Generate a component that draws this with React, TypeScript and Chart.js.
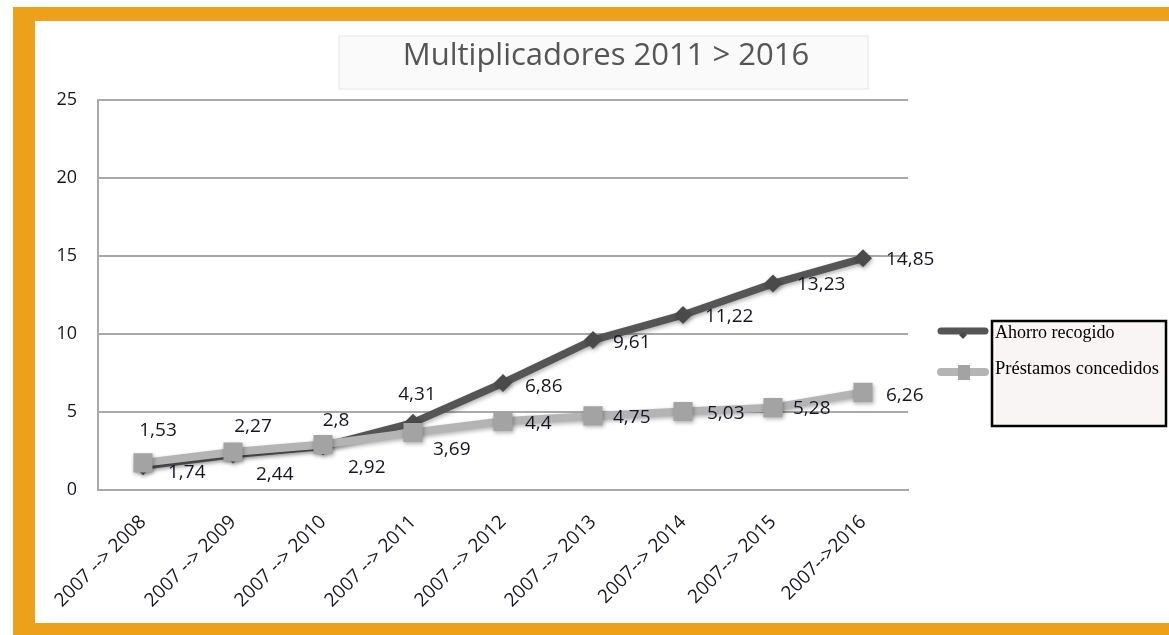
import { useEffect, useRef } from 'react';
import { Chart, registerables } from 'chart.js';

Chart.register(...registerables);

const TITLE = 'Multiplicadores 2011 > 2016';
const CATEGORIES = [
  '2007 --> 2008',
  '2007 --> 2009',
  '2007 --> 2010',
  '2007 --> 2011',
  '2007 --> 2012',
  '2007 --> 2013',
  '2007--> 2014',
  '2007--> 2015',
  '2007-->2016',
];
const SERIES_NAMES = ['Ahorro recogido', 'Préstamos concedidos'];
const AHORRO = [1.53, 2.27, 2.8, 4.31, 6.86, 9.61, 11.22, 13.23, 14.85];
const PRESTAMOS = [1.74, 2.44, 2.92, 3.69, 4.4, 4.75, 5.03, 5.28, 6.26];
const Y_MIN = 0;
const Y_MAX = 25;
const Y_STEP = 5;

// label placement (style only): [align, dx, dy] relative to the point
const AHORRO_LABEL_POS: [string, number, number][] = [
  ['center', 15, -36], ['center', 20, -28], ['center', 13, -26], ['center', 4, -28],
  ['left', 22, 4], ['left', 20, 3], ['left', 22, 2], ['left', 24, 1], ['left', 23, 1],
];
const PRESTAMOS_LABEL_POS: [string, number, number][] = [
  ['left', 25, 10], ['left', 23, 23], ['left', 25, 23], ['left', 20, 17],
  ['left', 22, 2], ['left', 20, 2], ['left', 24, 2], ['left', 20, 1], ['left', 23, 3],
];

const W = 1169;
const H = 635;
const ORANGE = '#EDA11A';
const DARK = '#555555';
const DARK_MARK = '#4a4a4a';
const LIGHT = '#b4b4b4';
const LIGHT_MARK = '#a3a3a3';
const GRID = '#a9a9a9';
const TEXT = '#16161f';
const SANS = '"Open Sans"';

const fmt = (v: number) => String(v).replace('.', ',');

const decorPlugin = {
  id: 'decor',
  beforeDraw(chart: any) {
    const ctx = chart.ctx;
    ctx.save();
    ctx.fillStyle = '#ffffff';
    ctx.fillRect(0, 0, W, H);
    ctx.fillStyle = ORANGE;
    ctx.fillRect(13, 7, W - 13, 14);
    ctx.fillRect(13, 7, 22, H - 7);
    ctx.fillRect(13, 623, W - 13, H - 623);
    // title box
    ctx.fillStyle = '#fbfafa';
    ctx.fillRect(339, 36, 529, 53);
    ctx.strokeStyle = '#f0ebeb';
    ctx.lineWidth = 1.5;
    ctx.strokeRect(339, 36, 529, 53);
    ctx.fillStyle = '#555555';
    ctx.font = `31px "Open Sans"`;
    ctx.textAlign = 'center';
    ctx.textBaseline = 'alphabetic';
    ctx.fillText(TITLE, 606, 65);
    ctx.restore();
  },
  beforeDatasetsDraw(chart: any) {
    const ctx = chart.ctx;
    ctx.save();
    ctx.shadowColor = 'rgba(0,0,0,0.3)';
    ctx.shadowBlur = 4;
    ctx.shadowOffsetX = 1;
    ctx.shadowOffsetY = 2;
  },
  afterDatasetsDraw(chart: any) {
    const ctx = chart.ctx;
    ctx.restore();
    ctx.save();
    ctx.font = `19px ${SANS}`;
    ctx.fillStyle = TEXT;
    ctx.textBaseline = 'middle';
    const posSets = [AHORRO_LABEL_POS, PRESTAMOS_LABEL_POS];
    chart.data.datasets.forEach((ds: any, i: number) => {
      const meta = chart.getDatasetMeta(i);
      meta.data.forEach((pt: any, j: number) => {
        const [align, dx, dy] = posSets[i][j];
        ctx.textAlign = align;
        ctx.fillText(fmt(ds.data[j]), pt.x + dx, pt.y + dy);
      });
    });
    ctx.restore();
  },
  afterDraw(chart: any) {
    const ctx = chart.ctx;
    ctx.save();
    // legend box
    ctx.fillStyle = '#f9f5f4';
    ctx.fillRect(992, 321, 174, 105);
    ctx.strokeStyle = '#000';
    ctx.lineWidth = 2.5;
    ctx.strokeRect(992, 321, 174, 105);
    const ys = [331, 372];
    chart.data.datasets.forEach((ds: any, i: number) => {
      const y = ys[i];
      ctx.strokeStyle = ds.borderColor;
      ctx.lineWidth = i === 0 ? 7 : 8;
      ctx.lineCap = 'round';
      ctx.beginPath();
      ctx.moveTo(941, y);
      ctx.lineTo(985, y);
      ctx.stroke();
      ctx.fillStyle = ds.pointBackgroundColor;
      if (i === 0) {
        ctx.beginPath();
        ctx.moveTo(963, y + 1);
        ctx.lineTo(967, y + 4);
        ctx.lineTo(963, y + 8);
        ctx.lineTo(959, y + 4);
        ctx.closePath();
        ctx.fill();
      } else {
        ctx.fillRect(958, y - 7, 12, 15);
      }
      ctx.fillStyle = '#000';
      ctx.font = i === 0 ? '18px "Liberation Serif"' : '18.5px "Liberation Serif"';
      ctx.textAlign = 'left';
      ctx.textBaseline = 'alphabetic';
      ctx.fillText(SERIES_NAMES[i], 995, i === 0 ? 338 : 374);
    });
    ctx.restore();
  },
};

export default function App() {
  const ref = useRef<HTMLCanvasElement | null>(null);
  useEffect(() => {
    if (!ref.current) return;
    const chart = new Chart(ref.current, {
      type: 'line',
      data: {
        labels: CATEGORIES,
        datasets: [
          {
            label: SERIES_NAMES[0],
            data: AHORRO,
            borderColor: DARK,
            backgroundColor: DARK_MARK,
            pointBackgroundColor: DARK_MARK,
            pointBorderColor: DARK_MARK,
            borderWidth: 7.5,
            pointStyle: 'rectRot',
            pointRadius: 9,
            pointBorderWidth: 0,
            tension: 0,
            order: 1,
          },
          {
            label: SERIES_NAMES[1],
            data: PRESTAMOS,
            borderColor: LIGHT,
            backgroundColor: LIGHT_MARK,
            pointBackgroundColor: LIGHT_MARK,
            pointBorderColor: LIGHT_MARK,
            borderWidth: 8,
            pointStyle: 'rect',
            pointRadius: 13.5,
            pointBorderWidth: 0,
            tension: 0,
            order: 0,
          },
        ],
      },
      options: {
        responsive: false,
        animation: false,
        layout: { padding: { left: 40, top: 100, right: W - 908, bottom: 10 } },
        plugins: {
          legend: { display: false },
          title: { display: false },
          tooltip: { enabled: false },
        },
        scales: {
          x: {
            offset: true,
            grid: { display: false, drawTicks: false },
            border: { display: true, color: GRID, width: 2 },
            ticks: {
              autoSkip: false,
              minRotation: 45,
              maxRotation: 45,
              padding: 21,
              color: TEXT,
              font: { family: SANS, size: 19 },
            },
            afterFit: (s: any) => {
              s.height = 135;
            },
          },
          y: {
            min: Y_MIN,
            max: Y_MAX,
            ticks: {
              stepSize: Y_STEP,
              padding: 21,
              color: TEXT,
              font: { family: SANS, size: 18 },
            },
            grid: { color: GRID, lineWidth: 2, drawTicks: false },
            border: { display: true, color: GRID, width: 2 },
            afterFit: (s: any) => {
              s.width = 58;
            },
          },
        },
      },
      plugins: [decorPlugin],
    });
    return () => chart.destroy();
  }, []);
  return (
    <canvas
      ref={ref}
      width={W}
      height={H}
      style={{ position: 'absolute', left: 0, top: 0, width: W, height: H }}
    />
  );
}
